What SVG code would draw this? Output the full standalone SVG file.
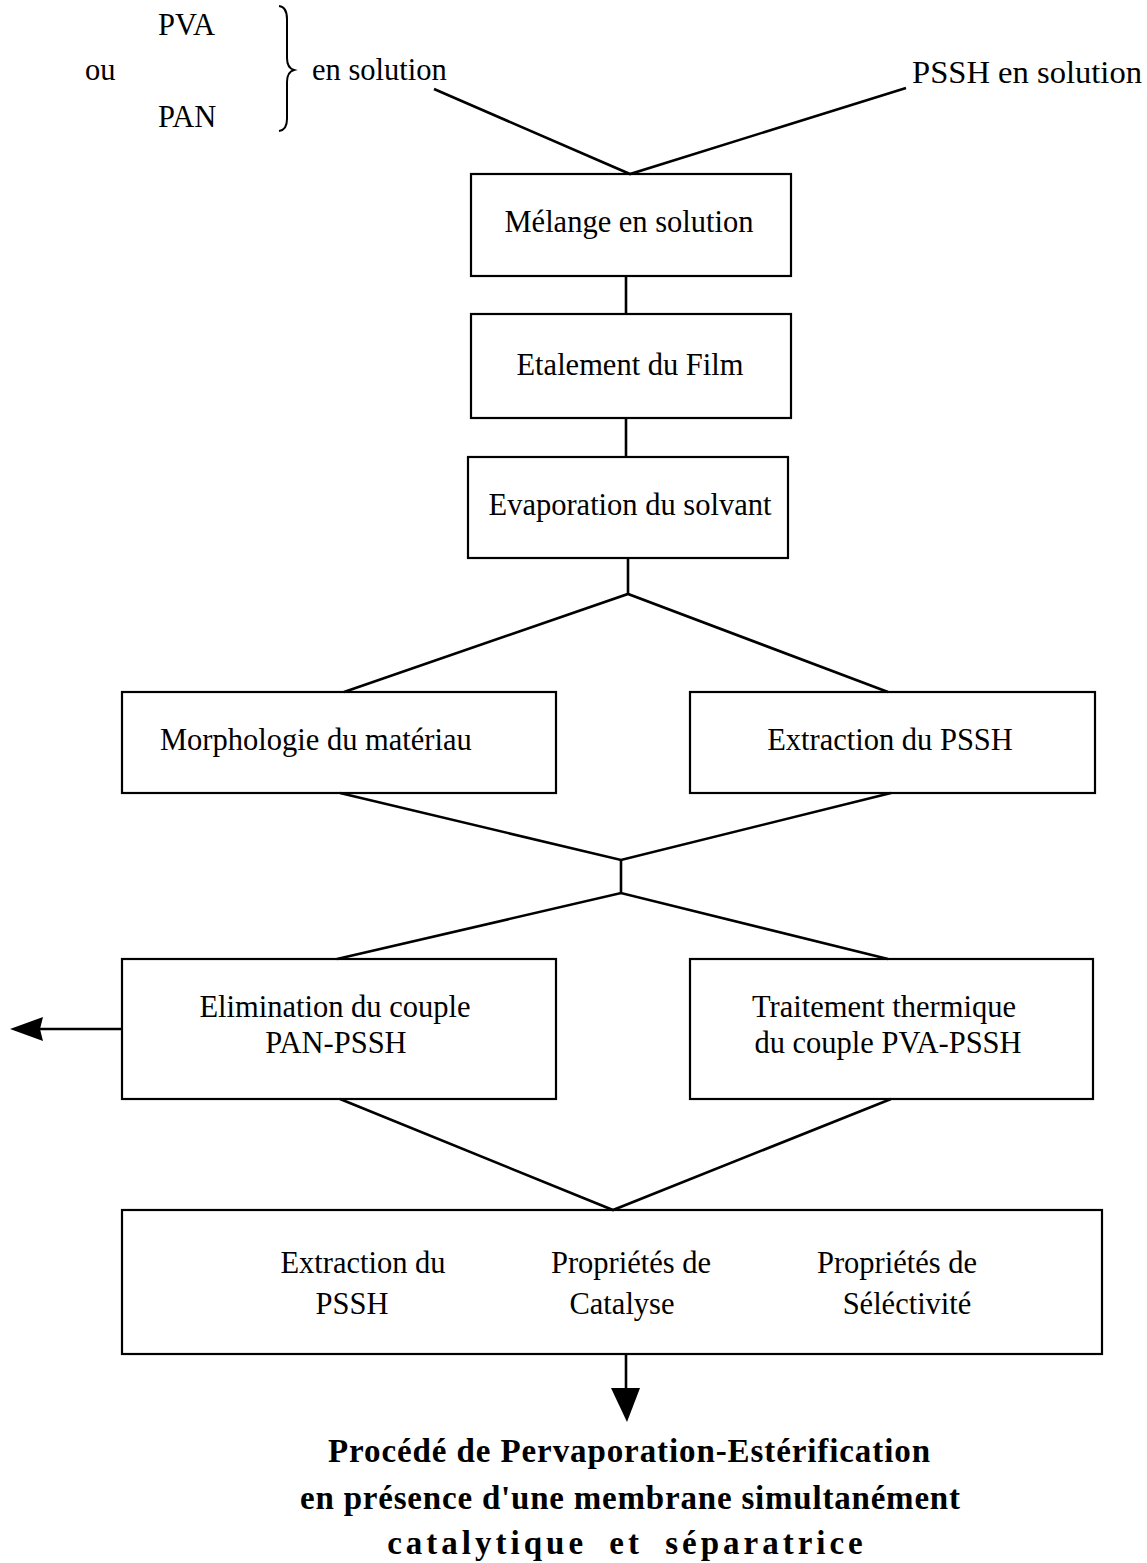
<svg xmlns="http://www.w3.org/2000/svg" width="1147" height="1563" viewBox="0 0 1147 1563">
<style>
.t{font-family:"Liberation Serif","Times New Roman",serif;font-size:30.5px;fill:#000}
.m{text-anchor:middle}
.b{font-family:"Liberation Serif","Times New Roman",serif;font-size:33px;font-weight:bold;fill:#000;text-anchor:middle}
.box{fill:none;stroke:#000;stroke-width:2.2}
.c{fill:none;stroke:#000;stroke-width:2.6;stroke-linejoin:miter}
</style>
<rect width="1147" height="1563" fill="#fff"/>
<g id="inputs">
<text class="t" x="158" y="35">PVA</text>
<text class="t" x="85" y="80">ou</text>
<text class="t" x="158" y="127">PAN</text>
<path d="M279,6 Q287,7 287,19 L287,58 Q287,68 294,70 Q287,72 287,82 L287,119 Q287,130 279,131" fill="none" stroke="#000" stroke-width="2"/>
<text class="t" x="312" y="80">en solution</text>
<text class="t" x="912" y="83" textLength="230" lengthAdjust="spacingAndGlyphs">PSSH en solution</text>
</g>
<g id="n1"><rect class="box" x="471" y="174" width="320" height="102"/><text class="t m" x="629" y="232">Mélange en solution</text></g>
<g id="n2"><rect class="box" x="471" y="314" width="320" height="104"/><text class="t m" x="630" y="375">Etalement du Film</text></g>
<g id="n3"><rect class="box" x="468" y="457" width="320" height="101"/><text class="t m" x="630" y="515">Evaporation du solvant</text></g>
<g id="n4"><rect class="box" x="122" y="692" width="434" height="101"/><text class="t" x="160" y="750">Morphologie du matériau</text></g>
<g id="n5"><rect class="box" x="690" y="692" width="405" height="101"/><text class="t m" x="890" y="750">Extraction du PSSH</text></g>
<g id="n6"><rect class="box" x="122" y="959" width="434" height="140"/><text class="t m" x="335" y="1017">Elimination du couple</text><text class="t m" x="336" y="1053">PAN-PSSH</text></g>
<g id="n7"><rect class="box" x="690" y="959" width="403" height="140"/><text class="t m" x="884" y="1017">Traitement thermique</text><text class="t m" x="888" y="1053">du couple PVA-PSSH</text></g>
<g id="n8"><rect class="box" x="122" y="1210" width="980" height="144"/>
<text class="t m" x="363" y="1273">Extraction du</text><text class="t m" x="352" y="1314">PSSH</text>
<text class="t m" x="631" y="1273">Propriétés de</text><text class="t m" x="622" y="1314">Catalyse</text>
<text class="t m" x="897" y="1273">Propriétés de</text><text class="t m" x="907" y="1314">Séléctivité</text>
</g>
<g id="result">
<text class="b" x="629" y="1462" textLength="602" lengthAdjust="spacing">Procédé de Pervaporation-Estérification</text>
<text class="b" x="630" y="1509" textLength="660" lengthAdjust="spacing">en présence d'une membrane simultanément</text>
<text class="b" x="627" y="1554" letter-spacing="4" word-spacing="10">catalytique et séparatrice</text>
</g>
<g id="connectors">
<polyline class="c" points="434,89 630,174 906,88"/>
<line class="c" x1="626" y1="276" x2="626" y2="314"/>
<line class="c" x1="626" y1="418" x2="626" y2="457"/>
<polyline class="c" points="344,692 628,594 888,692"/>
<line class="c" x1="628" y1="558" x2="628" y2="594"/>
<polyline class="c" points="340,793 621,860 891,793"/>
<line class="c" x1="621" y1="860" x2="621" y2="893"/>
<polyline class="c" points="337,959 621,893 888,959"/>
<polyline class="c" points="340,1099 613,1210 891,1099"/>
<line class="c" x1="122" y1="1029" x2="40" y2="1029" stroke-width="2"/>
<polygon points="10,1029 43,1017 40,1029 43,1041" fill="#000"/>
<line class="c" x1="626" y1="1354" x2="626" y2="1392"/>
<polygon points="611,1388 640,1388 627,1422" fill="#000"/>
</g>
</svg>
